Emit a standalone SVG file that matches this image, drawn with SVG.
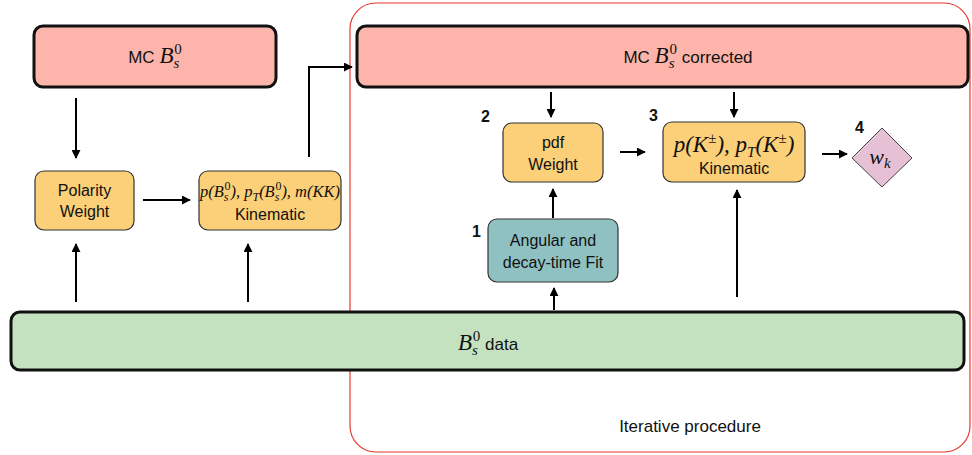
<svg xmlns="http://www.w3.org/2000/svg" width="972" height="455" viewBox="0 0 972 455">
<defs>
<marker id="ah" viewBox="0 0 10 10" refX="9" refY="5" markerWidth="9" markerHeight="9" orient="auto-start-reverse" markerUnits="userSpaceOnUse">
<path d="M0,0 L10,5 L0,10 z" fill="#000"/>
</marker>
<style>
.big{stroke:#111;stroke-width:3}
.thin{stroke:#333;stroke-width:1.2}
.t{font-family:"Liberation Sans",Arial,sans-serif;font-size:16px;fill:#111;text-anchor:middle}
.m{font-family:"Liberation Serif","Times New Roman",serif;font-style:italic}
.u{font-style:normal}
.n{font-family:"Liberation Sans",Arial,sans-serif;font-size:16px;font-weight:bold;fill:#111}
.c{fill:none;stroke:#000;stroke-width:2;marker-end:url(#ah)}
</style>
</defs>
<rect width="972" height="455" fill="#fff"/>
<g id="frame">
<rect x="350" y="3" width="620" height="449" rx="26" fill="none" stroke="#e8392b" stroke-width="1.2"/>
<text x="690" y="432" class="t" style="font-size:17px">Iterative procedure</text>
</g>
<g id="mc">
<rect x="34" y="26" width="242" height="61" rx="9" fill="#fdb5ab" class="big"/>
<text x="155" y="63" class="t" style="font-size:17px">MC <tspan class="m" font-size="23">B</tspan><tspan class="m" font-size="15" dy="5">s</tspan><tspan class="m u" font-size="15" dx="-5" dy="-14">0</tspan></text>
</g>
<g id="mccorr">
<rect x="357" y="26" width="611" height="61" rx="9" fill="#fdb5ab" class="big"/>
<text x="688" y="63" class="t" style="font-size:17px">MC <tspan class="m" font-size="23">B</tspan><tspan class="m" font-size="15" dy="5">s</tspan><tspan class="m u" font-size="15" dx="-5" dy="-14">0</tspan><tspan dy="9"> corrected</tspan></text>
</g>
<g id="polarity">
<rect x="35" y="171" width="99" height="59" rx="9" fill="#fbd078" class="thin"/>
<text x="84.5" y="196" class="t">Polarity</text>
<text x="84.5" y="217" class="t">Weight</text>
</g>
<g id="kin1">
<rect x="199" y="171" width="142" height="59" rx="9" fill="#fbd078" class="thin"/>
<text x="270" y="197" class="t m" style="font-size:16.5px">p(B<tspan font-size="12" dy="4">s</tspan><tspan class="u" font-size="12" dx="-4" dy="-11">0</tspan><tspan dy="7">), p</tspan><tspan font-size="12" dy="4">T</tspan><tspan dy="-4">(B</tspan><tspan font-size="12" dy="4">s</tspan><tspan class="u" font-size="12" dx="-4" dy="-11">0</tspan><tspan dy="7">), m(KK)</tspan></text>
<text x="270" y="220" class="t">Kinematic</text>
</g>
<g id="pdf">
<rect x="503" y="123" width="100" height="59" rx="9" fill="#fbd078" class="thin"/>
<text x="553" y="148" class="t">pdf</text>
<text x="553" y="170" class="t">Weight</text>
<text x="481" y="122" class="n">2</text>
</g>
<g id="kin3">
<rect x="663" y="122" width="142" height="60" rx="9" fill="#fbd078" class="thin"/>
<text x="734" y="152" class="t m" style="font-size:23px">p(K<tspan class="u" font-size="15" dy="-9">±</tspan><tspan dy="9">), p</tspan><tspan font-size="15" dy="5">T</tspan><tspan dy="-5">(K</tspan><tspan class="u" font-size="15" dy="-9">±</tspan><tspan dy="9">)</tspan></text>
<text x="734" y="174" class="t">Kinematic</text>
<text x="649" y="121" class="n">3</text>
</g>
<g id="wk">
<polygon points="882,128 912,158 882,187 852,158" fill="#e6c1d6" stroke="#444" stroke-width="1"/>
<text x="880" y="164" class="t m" style="font-size:22px">w<tspan font-size="15" dy="4">k</tspan></text>
<text x="855" y="133" class="n">4</text>
</g>
<g id="fit">
<rect x="488" y="219" width="130" height="63" rx="9" fill="#8fc1c2" class="thin"/>
<text x="553" y="246" class="t">Angular and</text>
<text x="553" y="268" class="t">decay-time Fit</text>
<text x="472" y="237" class="n">1</text>
</g>
<g id="data">
<rect x="11" y="312" width="953" height="58" rx="9" fill="#c5e2c0" class="big"/>
<text x="488" y="350" class="t" style="font-size:17px"><tspan class="m" font-size="23">B</tspan><tspan class="m" font-size="15" dy="5">s</tspan><tspan class="m u" font-size="15" dx="-5" dy="-14">0</tspan><tspan dy="9"> data</tspan></text>
</g>
<g id="connectors">
<path class="c" d="M76,98 V158"/>
<path class="c" d="M143,200 H190"/>
<path class="c" d="M309,157 V67 H352"/>
<path class="c" d="M76,302 V244"/>
<path class="c" d="M248,302 V244"/>
<path class="c" d="M551,92 V117"/>
<path class="c" d="M734,92 V117"/>
<path class="c" d="M620,152 H645"/>
<path class="c" d="M822,154 H847"/>
<path class="c" d="M554,310 V288"/>
<path class="c" d="M553,218 V189"/>
<path class="c" d="M737,297 V190"/>
</g>
</svg>
